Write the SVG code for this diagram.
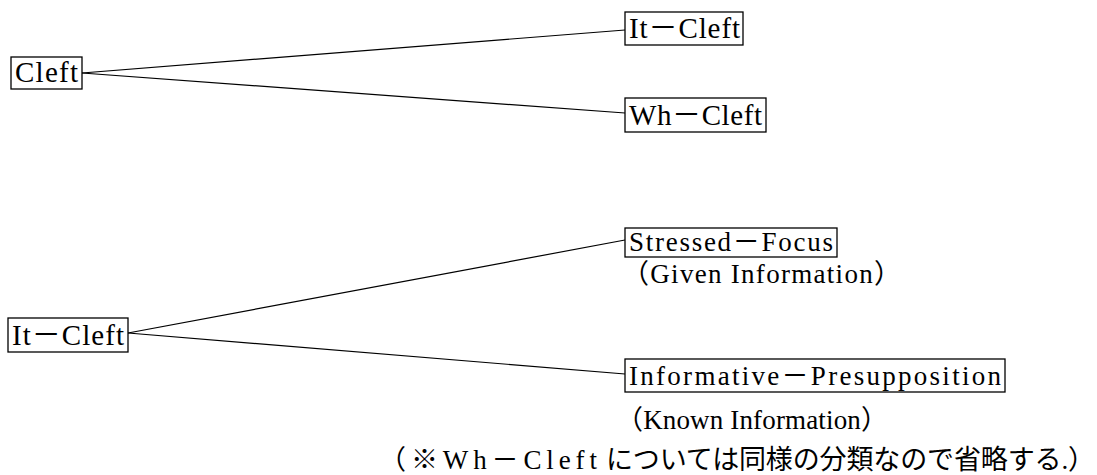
<svg xmlns="http://www.w3.org/2000/svg" width="1097" height="475" viewBox="0 0 1097 475">
<style>
.box{fill:#fff;stroke:#000;stroke-width:1.3}
.t{font-family:"Liberation Serif","Noto Sans CJK JP",serif;font-size:29px;fill:#000}
.s{font-family:"Liberation Serif","Noto Sans CJK JP",serif;font-size:27px;fill:#000}
.j{font-family:"Liberation Serif","Noto Sans CJK JP",serif;font-size:27px;fill:#000}
.ln{stroke:#000;stroke-width:1.2;fill:none}
</style>
<rect width="1097" height="475" fill="#fff"/>
<g id="connectors">
<path class="ln" d="M82,73 L625,30"/>
<path class="ln" d="M82,73 L625,113"/>
<path class="ln" d="M128,333 L625,240"/>
<path class="ln" d="M128,333 L625,374"/>
</g>
<g id="cleft">
<rect class="box" x="11" y="57" width="71" height="32"/>
<text class="t" x="15" y="82" textLength="63" lengthAdjust="spacing">Cleft</text>
</g>
<g id="it-cleft-top">
<rect class="box" x="625" y="12" width="118" height="33"/>
<text class="t" x="629" y="38" textLength="111" lengthAdjust="spacing">It－Cleft</text>
</g>
<g id="wh-cleft">
<rect class="box" x="625" y="98" width="141" height="34"/>
<text class="t" x="629" y="125" textLength="133" lengthAdjust="spacing">Wh－Cleft</text>
</g>
<g id="it-cleft-bottom">
<rect class="box" x="8" y="318" width="120" height="34"/>
<text class="t" x="12" y="345" textLength="112" lengthAdjust="spacing">It－Cleft</text>
</g>
<g id="stressed-focus">
<rect class="box" x="625" y="228" width="212" height="29"/>
<text class="s" x="629" y="251" textLength="204" lengthAdjust="spacing">Stressed－Focus</text>
<text class="s" x="622" y="283" textLength="279" lengthAdjust="spacing">（Given Information）</text>
</g>
<g id="informative-presupposition">
<rect class="box" x="625" y="359" width="380" height="33"/>
<text class="s" x="629" y="385" textLength="372" lengthAdjust="spacing">Informative－Presupposition</text>
<text class="s" x="616" y="429" textLength="272" lengthAdjust="spacing">（Known Information）</text>
</g>
<g id="note">
<text class="j" y="469"><tspan x="379" textLength="218" lengthAdjust="spacing">（※Wh－Cleft</tspan><tspan x="606" textLength="489" lengthAdjust="spacing">については同様の分類なので省略する.）</tspan></text>
</g>
</svg>
